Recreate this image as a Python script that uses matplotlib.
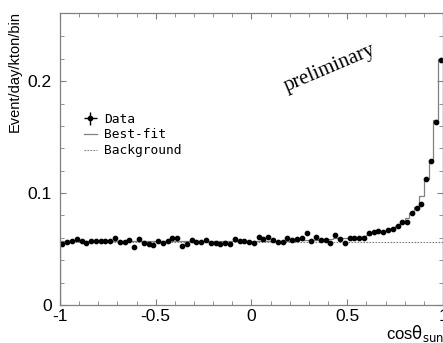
import matplotlib
matplotlib.use('Agg')
import matplotlib.pyplot as plt
import numpy as np

# cos(theta_sun) histogram, 80 bins from -1 to 1
bin_edges = np.linspace(-1, 1, 81)
data = [0.0545, 0.0565, 0.0574, 0.0589, 0.0571, 0.0556, 0.0574, 0.0571, 0.0568, 0.0568,
        0.0574, 0.0601, 0.0560, 0.0565, 0.0577, 0.0515, 0.0586, 0.0550, 0.0548, 0.0532,
        0.0574, 0.0556, 0.0574, 0.0595, 0.0595, 0.0530, 0.0542, 0.0580, 0.0560, 0.0560,
        0.0577, 0.0550, 0.0550, 0.0542, 0.0550, 0.0548, 0.0589, 0.0571, 0.0571, 0.0565,
        0.0550, 0.0610, 0.0589, 0.0604, 0.0580, 0.0560, 0.0560, 0.0595, 0.0580, 0.0589,
        0.0595, 0.0640, 0.0574, 0.0610, 0.0580, 0.0580, 0.0556, 0.0625, 0.0590, 0.0556,
        0.0595, 0.0595, 0.0595, 0.0600, 0.0640, 0.0655, 0.0660, 0.0650, 0.0670, 0.0675,
        0.0705, 0.0740, 0.0740, 0.0820, 0.0870, 0.0900, 0.1125, 0.1290, 0.1640, 0.2190]
data_err = [0.0018] * 80
best_fit = [0.0575] * 50 + [0.0585, 0.0585, 0.0585, 0.0585, 0.0585, 0.059, 0.059, 0.0595, 0.0595, 0.0595,
                            0.060, 0.0605, 0.061, 0.062, 0.063, 0.064, 0.065, 0.066, 0.067, 0.069,
                            0.071, 0.074, 0.078, 0.082, 0.088, 0.097, 0.113, 0.130, 0.165, 0.220]
background = 0.056

centers = 0.5 * (bin_edges[:-1] + bin_edges[1:])

fig = plt.figure(figsize=(4.43, 3.43), dpi=100)
ax = fig.add_axes([0.1354, 0.1108, 0.8646, 0.8513])

ax.stairs(best_fit, bin_edges, color='#808080', lw=0.9, label='Best-fit')
ax.plot([bin_edges[0], bin_edges[-1]], [background, background], color='#808080',
        lw=0.8, ls=(0, (1.5, 1.2)), label='Background')
ax.errorbar(centers, data, yerr=data_err, xerr=0.005, fmt='o', color='black',
            ms=3.1, elinewidth=1, capsize=0, label='Data')

ax.set_xlim(-1, 1)
ax.set_ylim(0, 0.261)
ax.set_xticks([-1, -0.5, 0, 0.5, 1])
ax.set_xticklabels(['-1', '-0.5', '0', '0.5', '1'])
ax.set_xticks(np.arange(-1, 1.01, 0.1), minor=True)
ax.set_yticks([0, 0.1, 0.2])
ax.set_yticklabels(['0', '0.1', '0.2'])
ax.set_yticks(np.arange(0, 0.26, 0.02), minor=True)
ax.tick_params(which='both', direction='in', top=True, right=True, color='#808080')
ax.tick_params(which='major', length=4, labelsize=12.5, pad=3)
ax.tick_params(which='minor', length=3)
ax.tick_params(axis='y', which='major', pad=6)
for lab in ax.get_xticklabels() + ax.get_yticklabels():
    lab.set_family('Liberation Sans')
for s in ax.spines.values():
    s.set_color('#808080')
    s.set_linewidth(0.9)

ax.set_ylabel('Event/day/kton/bin', fontsize=10.5, family='Liberation Sans')
ax.yaxis.set_label_coords(-0.1, 0.8)

fig.text(386 / 443, 1 - 333 / 343, r'cos$\mathrm{\theta}_{\mathsf{sun}}$', fontsize=12,
         family='Liberation Sans', va='center', ha='left')

ax.text(0.705, 0.81, 'preliminary', transform=ax.transAxes, rotation=23,
        fontsize=15, family='Liberation Serif', ha='center', va='center')

h, l = ax.get_legend_handles_labels()
order = [2, 0, 1]
ax.legend([h[i] for i in order], [l[i] for i in order], loc='upper left',
          bbox_to_anchor=(0.045, 0.68), frameon=False, borderpad=0,
          handlelength=1.0, handletextpad=0.6, labelspacing=0.2,
          prop={'family': 'DejaVu Sans Mono', 'size': 9.3})

fig.savefig('out.png', dpi=100)
